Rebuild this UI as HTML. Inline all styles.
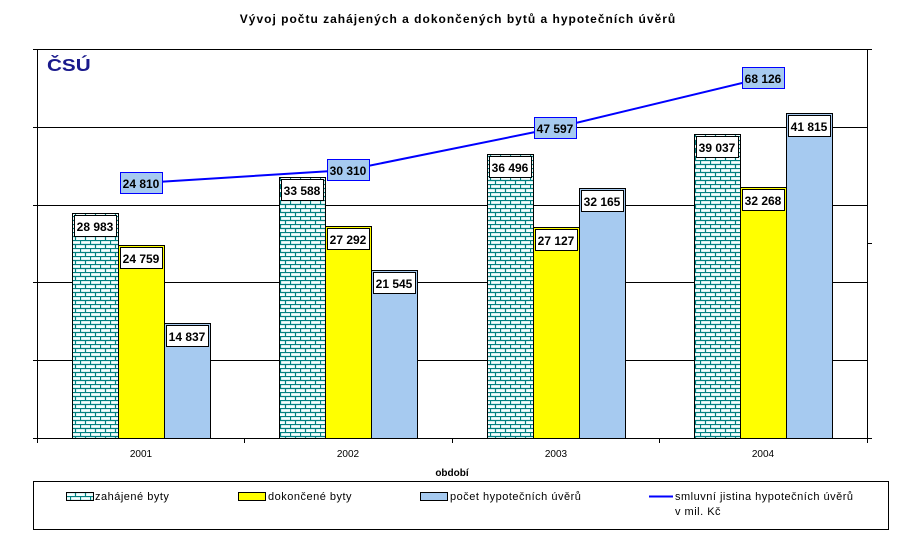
<!DOCTYPE html>
<html><head><meta charset="utf-8"><style>
body{margin:0;background:#fff;}
svg text{font-family:"Liberation Sans",Arial,sans-serif;}
</style></head><body>
<svg width="917" height="536" xmlns="http://www.w3.org/2000/svg">
<defs>
<pattern id="brick" width="10" height="8" patternUnits="userSpaceOnUse">
<rect width="10" height="8" fill="#f4ffff"/>
<path d="M0 0.5H10M0 4.5H10M0.5 0V4.5M5.5 4.5V8" stroke="#008080" stroke-width="1.2" fill="none"/>
</pattern>
</defs>
<text x="458" y="23" text-anchor="middle" font-size="12" font-weight="bold" letter-spacing="1">Vývoj počtu zahájených a dokončených bytů a hypotečních úvěrů</text>
<g stroke="#000" stroke-width="1">
<line x1="37" y1="49.5" x2="867" y2="49.5"/>
<line x1="37" y1="127.5" x2="867" y2="127.5"/>
<line x1="37" y1="205.5" x2="867" y2="205.5"/>
<line x1="37" y1="282.5" x2="867" y2="282.5"/>
<line x1="37" y1="360.5" x2="867" y2="360.5"/>
<line x1="37" y1="438.5" x2="867" y2="438.5"/>
<line x1="37.5" y1="49" x2="37.5" y2="438"/>
<line x1="867.5" y1="49" x2="867.5" y2="438"/>
<line x1="33" y1="49.5" x2="37" y2="49.5"/><line x1="33" y1="127.5" x2="37" y2="127.5"/><line x1="33" y1="205.5" x2="37" y2="205.5"/><line x1="33" y1="282.5" x2="37" y2="282.5"/><line x1="33" y1="360.5" x2="37" y2="360.5"/><line x1="33" y1="438.5" x2="37" y2="438.5"/>
<line x1="867" y1="49.5" x2="872" y2="49.5"/><line x1="867" y1="243.5" x2="872" y2="243.5"/><line x1="867" y1="438.5" x2="872" y2="438.5"/>
<line x1="37.5" y1="438" x2="37.5" y2="443"/><line x1="244.5" y1="438" x2="244.5" y2="443"/><line x1="452.5" y1="438" x2="452.5" y2="443"/><line x1="659.5" y1="438" x2="659.5" y2="443"/><line x1="867.5" y1="438" x2="867.5" y2="443"/>
</g>
<text x="47" y="71" font-size="18" font-weight="bold" fill="#1a1a8c" letter-spacing="0" transform="scale(1.15 1)" style="transform-origin:47px 71px">ČSÚ</text>
<g stroke="#000" stroke-width="1">
<rect x="72.5" y="213.5" width="46" height="225" fill="url(#brick)"/>
<rect x="118.5" y="245.5" width="46" height="193" fill="#ffff00"/>
<rect x="164.5" y="323.5" width="46" height="115" fill="#a6caf0"/>
<rect x="279.5" y="177.5" width="46" height="261" fill="url(#brick)"/>
<rect x="325.5" y="226.5" width="46" height="212" fill="#ffff00"/>
<rect x="371.5" y="270.5" width="46" height="168" fill="#a6caf0"/>
<rect x="487.5" y="154.5" width="46" height="284" fill="url(#brick)"/>
<rect x="533.5" y="227.5" width="46" height="211" fill="#ffff00"/>
<rect x="579.5" y="188.5" width="46" height="250" fill="#a6caf0"/>
<rect x="694.5" y="134.5" width="46" height="304" fill="url(#brick)"/>
<rect x="740.5" y="187.5" width="46" height="251" fill="#ffff00"/>
<rect x="786.5" y="113.5" width="46" height="325" fill="#a6caf0"/>
</g>
<polyline points="141,183 348,170 555,128 763,78" fill="none" stroke="#0000ff" stroke-width="2"/>
<g font-size="12" font-weight="bold" text-anchor="middle">
<g stroke="#0000ff" fill="#a6caf0">
<rect x="120.5" y="172.5" width="42" height="21"/>
<rect x="327.5" y="159.5" width="42" height="21"/>
<rect x="534.5" y="117.5" width="42" height="21"/>
<rect x="742.5" y="67.5" width="42" height="21"/>
</g>
<text x="141" y="188">24 810</text><text x="348" y="175">30 310</text><text x="555" y="133">47 597</text><text x="763" y="83">68 126</text>
<g stroke="#000" fill="#fff">
<rect x="74.5" y="215.5" width="42" height="21"/><rect x="120.5" y="247.5" width="42" height="21"/><rect x="166.5" y="325.5" width="42" height="21"/>
<rect x="281.5" y="179.5" width="42" height="21"/><rect x="327.5" y="228.5" width="42" height="21"/><rect x="373.5" y="272.5" width="42" height="21"/>
<rect x="489.5" y="156.5" width="42" height="21"/><rect x="535.5" y="229.5" width="42" height="21"/><rect x="581.5" y="190.5" width="42" height="21"/>
<rect x="696.5" y="136.5" width="42" height="21"/><rect x="742.5" y="189.5" width="42" height="21"/><rect x="788.5" y="115.5" width="42" height="21"/>
</g>
<text x="95" y="231">28 983</text><text x="141" y="263">24 759</text><text x="187" y="341">14 837</text>
<text x="302" y="195">33 588</text><text x="348" y="244">27 292</text><text x="394" y="288">21 545</text>
<text x="510" y="172">36 496</text><text x="556" y="245">27 127</text><text x="602" y="206">32 165</text>
<text x="717" y="152">39 037</text><text x="763" y="205">32 268</text><text x="809" y="131">41 815</text>
</g>
<g font-size="10" text-anchor="middle">
<text x="141" y="457">2001</text><text x="348" y="457">2002</text><text x="556" y="457">2003</text><text x="763" y="457">2004</text>
<text x="452" y="476" font-weight="bold">období</text>
</g>
<rect x="33.5" y="481.5" width="855" height="48" fill="#fff" stroke="#000"/>
<g stroke="#000" stroke-width="1">
<rect x="66.5" y="492.5" width="27" height="8" fill="url(#brick)"/>
<rect x="238.5" y="492.5" width="27" height="8" fill="#ffff00"/>
<rect x="420.5" y="492.5" width="27" height="8" fill="#a6caf0"/>
</g>
<line x1="649" y1="496.5" x2="673" y2="496.5" stroke="#0000ff" stroke-width="2"/>
<g font-size="11" letter-spacing="0.5">
<text x="95" y="500">zahájené byty</text>
<text x="268" y="500">dokončené byty</text>
<text x="450" y="500">počet hypotečních úvěrů</text>
<text x="675" y="500">smluvní jistina hypotečních úvěrů</text>
<text x="675" y="515">v mil. Kč</text>
</g>
</svg>
</body></html>
